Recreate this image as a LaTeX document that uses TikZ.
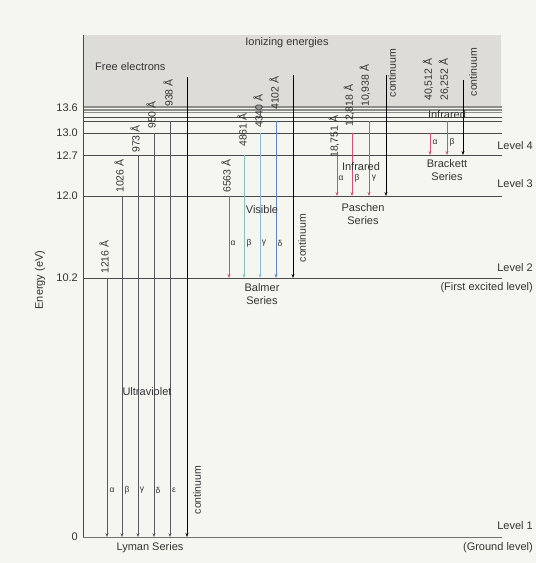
\documentclass[tikz,border=0pt]{standalone}
\usepackage{fontspec}
\setmainfont{Liberation Sans}
\usetikzlibrary{arrows.meta}
\definecolor{bg}{HTML}{F6F6F1}
\definecolor{boxgray}{HTML}{DDDCD8}
\definecolor{lvl}{HTML}{4A4A4A}
\definecolor{band}{HTML}{8E8E8C}
\definecolor{lym}{HTML}{5E5560}
\definecolor{txt}{HTML}{333333}
\definecolor{hal}{HTML}{C8506E}
\definecolor{hbe}{HTML}{86C2BC}
\definecolor{hga}{HTML}{8ABCD6}
\definecolor{hde}{HTML}{5F86C0}
\definecolor{irred}{HTML}{D0507A}
\tikzset{
  lvline/.style={draw=lvl, line width=0.9pt},
  bandline/.style={draw=band, line width=1.4pt},
  tran/.style={line width=0.9pt, -{Stealth[length=4pt,width=3pt]}},
  wl/.style={rotate=90, anchor=west, font=\fontsize{10.5}{12}\selectfont, inner sep=0pt, text=txt},
  lab/.style={font=\fontsize{11}{13}\selectfont, inner sep=0pt, text=txt},
  greek/.style={font=\fontsize{8.5}{9}\selectfont, inner sep=0pt, text=txt},
}
\begin{document}
\begin{tikzpicture}[x=1pt,y=-1pt]
\useasboundingbox (0,0) rectangle (536,563);
\fill[bg] (0,0) rectangle (536,563);
% ionizing box
\fill[boxgray] (83,35) rectangle (501,108);
% level coordinates
\coordinate (Lb1) at (83,107);
\coordinate (Lb2) at (83,110);
\coordinate (Lb3) at (83,112.5);
\coordinate (L7) at (83,117);
\coordinate (L6) at (83,121);
\coordinate (L5) at (83,133);
\coordinate (L4) at (83,155);
\coordinate (L3) at (83,196);
\coordinate (L2) at (83,278);
\coordinate (L1) at (83,537);
\coordinate (R) at (502,0);
\coordinate (top) at (83,35);
% levels
\foreach \l in {Lb1,Lb2,Lb3} \draw[bandline] (\l) -- (\l -| R);
\foreach \l in {L7,L6,L5,L4,L3,L2} \draw[lvline] (\l) -- (\l -| R);
\draw[draw=band!80!black, line width=0.9pt] (L1) -- (L1 -| R);
% axis
\draw[lvl, line width=0.9pt] (top) -- (L1);
% column coordinates
\coordinate (ly1) at (107,0); \coordinate (ly2) at (122,0); \coordinate (ly3) at (138,0);
\coordinate (ly4) at (154,0); \coordinate (ly5) at (170,0);
\coordinate (lyct) at (187,77);
\coordinate (ba1) at (229,0); \coordinate (ba2) at (244,0); \coordinate (ba3) at (260,0); \coordinate (ba4) at (276,0);
\coordinate (bact) at (293,75);
\coordinate (pa1) at (337,0); \coordinate (pa2) at (352,0); \coordinate (pa3) at (369,0);
\coordinate (pact) at (386,75);
\coordinate (br1) at (430,0); \coordinate (br2) at (447,0);
\coordinate (brct) at (463,80);
% Lyman
\draw[tran, lym] (ly1 |- L2) -- (ly1 |- L1);
\draw[tran, lym] (ly2 |- L3) -- (ly2 |- L1);
\draw[tran, lym] (ly3 |- L4) -- (ly3 |- L1);
\draw[tran, lym] (ly4 |- L5) -- (ly4 |- L1);
\draw[tran, lym] (ly5 |- L6) -- (ly5 |- L1);
\draw[tran, black] (lyct) -- (lyct |- L1);
% Balmer
\draw[tran, hal] (ba1 |- L3) -- (ba1 |- L2);
\draw[tran, hbe] (ba2 |- L4) -- (ba2 |- L2);
\draw[tran, hga] (ba3 |- L5) -- (ba3 |- L2);
\draw[tran, hde] (ba4 |- L6) -- (ba4 |- L2);
\draw[tran, black] (bact) -- (bact |- L2);
% Paschen
\draw[tran, irred] (pa1 |- L4) -- (pa1 |- L3);
\draw[tran, irred] (pa2 |- L5) -- (pa2 |- L3);
\draw[tran, irred] (pa3 |- L6) -- (pa3 |- L3);
\draw[tran, black] (pact) -- (pact |- L3);
% Brackett
\draw[tran, irred] (br1 |- L5) -- (br1 |- L4);
\draw[tran, irred] (br2 |- L6) -- (br2 |- L4);
\draw[tran, black] (brct) -- (brct |- L4);
% wavelength labels
\node[wl] (w1216) at (104,274) {1216 Å};
\node[wl] (w1026) at (119,193) {1026 Å};
\node[wl] (w973) at (135,153) {973 Å};
\node[wl] (w950) at (151,129) {950 Å};
\node[wl] (w938) at (168,107) {938 Å};
\node[wl] (w6563) at (226,193) {6563 Å};
\node[wl] (w4861) at (242,147) {4861 Å};
\node[wl] (w4340) at (258,128) {4340 Å};
\node[wl] (w4102) at (274,110) {4102 Å};
\node[wl] (w18751) at (334,158) {18,751 Å};
\node[wl] (w12818) at (349,127) {12,818 Å};
\node[wl] (w10938) at (365,107) {10,938 Å};
\node[wl] (w40512) at (428,101) {40,512 Å};
\node[wl] (w26252) at (444,101) {26,252 Å};
% continuum labels
\node[wl, anchor=center] (cly) at (197,490) {continuum};
\node[wl, anchor=center] (cba) at (302,238) {continuum};
\node[wl, anchor=center] (cpa) at (392,73) {continuum};
\node[wl, anchor=center] (cbr) at (473,72) {continuum};
% greek letters
\node[greek] (gl1) at (112,490) {α};
\node[greek] (gl2) at (127,490) {β};
\node[greek] (gl3) at (142,490) {γ};
\node[greek] (gl4) at (158,490) {δ};
\node[greek] (gl5) at (174,490) {ε};
\node[greek] (gb1) at (233,243) {α};
\node[greek] (gb2) at (249,243) {β};
\node[greek] (gb3) at (264,243) {γ};
\node[greek] (gb4) at (280,243) {δ};
\node[greek] (gp1) at (341,178) {α};
\node[greek] (gp2) at (357,178) {β};
\node[greek] (gp3) at (374,178) {γ};
\node[greek] (gr1) at (435,142) {α};
\node[greek] (gr2) at (452,142) {β};
% region labels
\node[lab, anchor=west] (free) at (95,67) {Free electrons};
\node[lab] (ion) at (287,43) {Ionizing energies};
\node[lab] (uv) at (147,392) {Ultraviolet};
\node[lab] (vis) at (262,210) {Visible};
\node[lab] (irp) at (361,167) {Infrared};
\node[lab] (irb) at (447,115) {Infrared};
\node[lab, align=center] (lys) at (150,548) {Lyman Series};
\node[lab, align=center] (bas) at (262,294) {Balmer\\Series};
\node[lab, align=center] (pas) at (363,214) {Paschen\\Series};
\node[lab, align=center] (brs) at (447,170) {Brackett\\Series};
% level names
\node[lab, anchor=east] (lv4) at (533,146) {Level 4};
\node[lab, anchor=east] (lv3) at (533,184) {Level 3};
\node[lab, anchor=east] (lv2) at (533,268) {Level 2};
\node[lab, anchor=east] (lv2b) at (533,288) {(First excited level)};
\node[lab, anchor=east] (lv1) at (533,526) {Level 1};
\node[lab, anchor=east] (lv1b) at (533,548) {(Ground level)};
% ticks
\node[lab, anchor=east] (t136) at (78,108) {13.6};
\node[lab, anchor=east] (t130) at (78,133) {13.0};
\node[lab, anchor=east] (t127) at (78,156) {12.7};
\node[lab, anchor=east] (t120) at (78,196) {12.0};
\node[lab, anchor=east] (t102) at (78,278) {10.2};
\node[lab, anchor=east] (t0) at (78,537) {0};
\node[lab, rotate=90] (axl) at (40,280) {Energy (eV)};
\end{tikzpicture}
\end{document}
